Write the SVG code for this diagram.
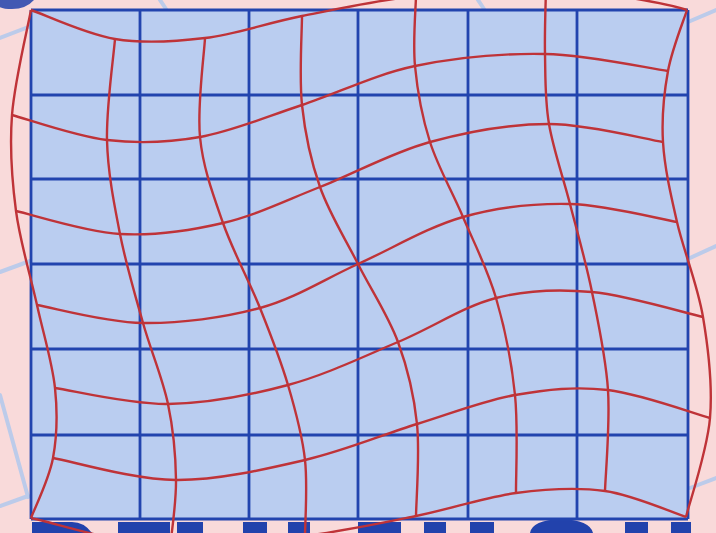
<svg xmlns="http://www.w3.org/2000/svg" width="716" height="533" viewBox="0 0 716 533">
<style>
.bgline{stroke:#bccbea;stroke-width:4;fill:none;stroke-linecap:round}
.grid{stroke:#2244ae;stroke-width:2.8;fill:none}
.warp{stroke:#bf3338;stroke-width:2.4;fill:none;stroke-linejoin:round}
.letter{fill:#2242ac}
</style>
<rect id="background" x="0" y="0" width="716" height="533" fill="#f9dada"/>
<g id="background-lines">
<path class="bgline" d="M0,38 L31,26"/>
<path class="bgline" d="M160,0 L166,9"/>
<path class="bgline" d="M478,0 L484,9"/>
<path class="bgline" d="M688,22 L716,10"/>
<path class="bgline" d="M0,272 L30,261"/>
<path class="bgline" d="M0,395 L28,497"/>
<path class="bgline" d="M0,506 L28,496"/>
<path class="bgline" d="M690,258 L716,246"/>
<path class="bgline" d="M690,488 L716,478"/>
</g>
<g id="letters">
<path class="letter" d="M-2,0 L34,0 Q26,9 12,9 Q2,9 -2,6 Z" opacity="0.85"/>
<path class="letter" d="M32,522 L72,522 Q84,522 92,533 L32,533 Z"/>
<rect class="letter" x="118" y="522" width="52" height="11"/>
<rect class="letter" x="177" y="522" width="26" height="11"/>
<rect class="letter" x="243" y="522" width="24" height="11"/>
<rect class="letter" x="288" y="522" width="22" height="11"/>
<rect class="letter" x="358" y="522" width="43" height="11"/>
<rect class="letter" x="424" y="522" width="22" height="11"/>
<rect class="letter" x="470" y="522" width="24" height="11"/>
<path class="letter" d="M530,533 Q532,520 561,519 Q590,520 593,533 Z"/>
<rect class="letter" x="625" y="522" width="23" height="11"/>
<rect class="letter" x="671" y="522" width="20" height="11"/>
</g>
<g id="reference-grid">
<rect x="31" y="10" width="657" height="509" fill="#bacdf0"/>
<path class="grid" d="M31,10 V519 M140,10 V519 M249,10 V519 M358,10 V519 M468,10 V519 M577,10 V519 M688,10 V519"/>
<path class="grid" d="M31,10 H688 M31,95 H688 M31,179 H688 M31,264 H688 M31,349 H688 M31,435 H688 M31,519 H688"/>
</g>
<g id="warped-grid">
<path class="warp" d="M31,10 C45,14.8 86,34.3 115,39 C144,43.7 173.8,41.8 205,38 C236.2,34.2 266.8,23 302,16 C337.2,9 375.3,0.7 416,-4 C456.7,-8.7 500.8,-14.3 546,-12 C591.2,-9.7 662,2 687,10"/>
<path class="warp" d="M12,115 C27.8,119.2 75.7,136.3 107,140 C138.3,143.7 167.5,142.8 200,137 C232.5,131.2 266.2,116.8 302,105 C337.8,93.2 374.5,74.5 415,66 C455.5,57.5 502.8,53.2 545,54 C587.2,54.8 647.5,68.2 668,71"/>
<path class="warp" d="M16,211 C33.3,214.8 85.5,232 120,234 C154.5,236 189.7,230.8 223,223 C256.3,215.2 285.5,200.5 320,187 C354.5,173.5 391.8,152.5 430,142 C468.2,131.5 510.2,124 549,124 C587.8,124 644,139 663,142"/>
<path class="warp" d="M37,305 C54.7,308 105.8,322.5 143,323 C180.2,323.5 224.2,317.8 260,308 C295.8,298.2 324.2,279.2 358,264 C391.8,248.8 427.7,227 463,217 C498.3,207 534.3,203.2 570,204 C605.7,204.8 659.2,219 677,222"/>
<path class="warp" d="M55,388 C73.8,390.7 129.2,404.5 168,404 C206.8,403.5 249.7,395.3 288,385 C326.3,374.7 363.3,356.5 398,342 C432.7,327.5 463.7,306.3 496,298 C528.3,289.7 557.5,288.8 592,292 C626.5,295.2 684.5,312.8 703,317"/>
<path class="warp" d="M53,458 C73.5,461.7 134,479.7 176,480 C218,480.3 264.8,469.3 305,460 C345.2,450.7 382,434.8 417,424 C452,413.2 483.2,400.7 515,395 C546.8,389.3 575.5,386.2 608,390 C640.5,393.8 693,413.3 710,418"/>
<path class="warp" d="M31,518 C54.2,523 124.3,545 170,548 C215.7,551 264,541.3 305,536 C346,530.7 380.8,523.2 416,516 C451.2,508.8 484.5,497.2 516,493 C547.5,488.8 576.7,487 605,491 C633.3,495 672.5,512.7 686,517"/>
<path class="warp" d="M31,10 C27.8,27.5 14.5,81.5 12,115 C9.5,148.5 11.8,179.3 16,211 C20.2,242.7 30.5,275.5 37,305 C43.5,334.5 52.3,362.5 55,388 C57.7,413.5 57,436.3 53,458 C49,479.7 34.7,508 31,518"/>
<path class="warp" d="M115,39 C113.7,55.8 106.2,107.5 107,140 C107.8,172.5 114,203.5 120,234 C126,264.5 135,294.7 143,323 C151,351.3 162.5,377.8 168,404 C173.5,430.2 175.7,456 176,480 C176.3,504 171,536.7 170,548"/>
<path class="warp" d="M205,38 C204.2,54.5 197,106.2 200,137 C203,167.8 213,194.5 223,223 C233,251.5 249.2,281 260,308 C270.8,335 280.5,359.7 288,385 C295.5,410.3 302.2,434.8 305,460 C307.8,485.2 305,523.3 305,536"/>
<path class="warp" d="M302,16 C302,30.8 299,76.5 302,105 C305,133.5 310.7,160.5 320,187 C329.3,213.5 345,238.2 358,264 C371,289.8 388.2,315.3 398,342 C407.8,368.7 414,395 417,424 C420,453 416.2,500.7 416,516"/>
<path class="warp" d="M416,-4 C415.8,7.7 412.7,41.7 415,66 C417.3,90.3 422,116.8 430,142 C438,167.2 452,191 463,217 C474,243 487.3,268.3 496,298 C504.7,327.7 511.7,362.5 515,395 C518.3,427.5 515.8,476.7 516,493"/>
<path class="warp" d="M546,-12 C545.8,-1 544.5,31.3 545,54 C545.5,76.7 544.8,99 549,124 C553.2,149 562.8,176 570,204 C577.2,232 585.7,261 592,292 C598.3,323 605.8,356.8 608,390 C610.2,423.2 605.5,474.2 605,491"/>
<path class="warp" d="M687,10 C683.8,20.2 672,49 668,71 C664,93 661.5,116.8 663,142 C664.5,167.2 670.3,192.8 677,222 C683.7,251.2 697.5,284.3 703,317 C708.5,349.7 712.8,384.7 710,418 C707.2,451.3 690,500.5 686,517"/>
</g>
</svg>
